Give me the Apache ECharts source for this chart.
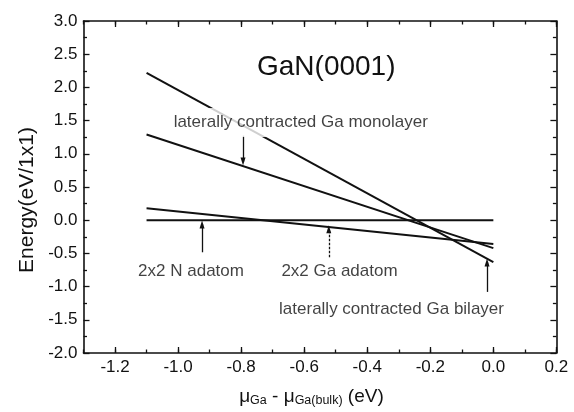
<!DOCTYPE html>
<html>
<head>
<meta charset="utf-8">
<script src="https://cdn.jsdelivr.net/npm/echarts@6/dist/echarts.min.js"></script>
<style>
  html, body { margin: 0; padding: 0; background: #fff; }
  #chart { width: 574px; height: 412px; }
</style>
</head>
<body>
<div id="chart"></div>
<script>
// Surface formation energy vs. Ga chemical potential, GaN(0001)
const muGa = [-1.1, 0.0];
const nAdatom = [0.0, 0.0];
const gaAdatom = [0.18, -0.36];
const gaMonolayer = [1.29, -0.42];
const gaBilayer = [2.22, -0.63];

const xMajorTicks = [-1.2, -1.0, -0.8, -0.6, -0.4, -0.2, 0.0, 0.2];

// annotation texts, their anchors and arrow shafts (data coordinates)
const noteTexts = ['laterally contracted Ga monolayer', '2x2 N adatom', '2x2 Ga adatom', 'laterally contracted Ga bilayer'];
const noteAnchors = [[-0.611, 1.47], [-0.959, -0.77], [-0.488, -0.77], [-0.323, -1.335]];
const arrowTails = [[-0.794, 1.273], [-0.924, -0.483], [-0.522, -0.559], [-0.020, -1.08]];
const arrowHeads = [[-0.794, 0.883], [-0.924, -0.063], [-0.522, -0.138], [-0.020, -0.638]];

const ink = '#111';
const sans = 'Liberation Sans, Arial, sans-serif';
const tickFont = { fontFamily: sans, fontSize: 17, color: ink };

const pairs = ys => muGa.map((x, i) => [x, ys[i]]);

const chart = echarts.init(document.getElementById('chart'), null, { renderer: 'canvas' });

function xAx(pos, major, showLine) {
  const ax = {
    type: 'value', position: pos, min: -1.3, max: 0.2,
    axisLine: { show: showLine, onZero: false, lineStyle: { color: ink, width: 1.6 } },
    splitLine: { show: false },
    axisTick: { show: true, inside: true, length: major ? 6 : 3.5, lineStyle: { color: ink, width: 1.3 } },
    axisLabel: { show: false }
  };
  if (major) {
    ax.axisTick.customValues = xMajorTicks;
    if (pos === 'bottom') {
      ax.axisLabel = Object.assign({ show: true, margin: 6, customValues: xMajorTicks, formatter: v => v.toFixed(1) }, tickFont);
      ax.name = '{m|\u03bc}{s|Ga}{m| - \u03bc}{s|Ga(bulk)}{m| (eV)}';
      ax.nameLocation = 'middle';
      ax.nameGap = 34;
      ax.nameTextStyle = {
        padding: [0, 17, 0, 0],
        rich: {
          m: { fontFamily: sans, fontSize: 19, lineHeight: 20, verticalAlign: 'top', color: ink },
          s: { fontFamily: sans, fontSize: 12.5, lineHeight: 12, padding: [13, 0, 0, 0], verticalAlign: 'bottom', color: ink }
        }
      };
    }
  } else {
    ax.interval = 0.1;
  }
  return ax;
}

function yAx(pos) {
  const ax = {
    type: 'value', position: pos, min: -2, max: 3, interval: 0.5,
    axisLine: { show: true, onZero: false, lineStyle: { color: ink, width: 1.6 } },
    splitLine: { show: false },
    axisTick: { show: true, inside: true, length: 6, lineStyle: { color: ink, width: 1.3 } },
    minorTick: { show: true, splitNumber: 2, length: 3.5, lineStyle: { color: ink, width: 1.3 } },
    axisLabel: { show: false }
  };
  if (pos === 'left') {
    ax.axisLabel = Object.assign({ show: true, margin: 6, formatter: v => v.toFixed(1) }, tickFont);
    ax.name = 'Energy(eV/1x1)';
    ax.nameLocation = 'middle';
    ax.nameGap = 38;
    ax.nameTextStyle = { fontFamily: sans, fontSize: 21, color: ink, padding: [0, 26, 0, 0] };
  }
  return ax;
}

function curve(name, ys) {
  return {
    name, type: 'line', data: pairs(ys), xAxisIndex: 0, yAxisIndex: 0,
    symbol: 'none', silent: true, z: 2,
    lineStyle: { color: ink, width: 2 }
  };
}

const arrowLines = arrowTails.map((t, i) => [
  { coord: t, symbol: 'none', lineStyle: i === 2 ? { type: [2.5, 1.5] } : {} },
  { coord: arrowHeads[i], symbol: 'triangle', symbolSize: [5, 8] }
]);

chart.setOption({
  animation: false,
  backgroundColor: '#fff',
  title: {
    text: 'GaN(0001)', left: 257, top: 53, padding: 0,
    textStyle: { fontFamily: sans, fontSize: 28, fontWeight: 'normal', color: ink }
  },
  grid: { left: 83.5, right: 17.6, top: 21, bottom: 58, containLabel: false },
  xAxis: [xAx('bottom', true, true), xAx('bottom', false, false), xAx('top', true, true), xAx('top', false, false)],
  yAxis: [yAx('left'), yAx('right')],
  series: [
    curve('2x2 N adatom', nAdatom),
    curve('2x2 Ga adatom', gaAdatom),
    curve('laterally contracted Ga monolayer', gaMonolayer),
    curve('laterally contracted Ga bilayer', gaBilayer),
    {
      type: 'scatter', xAxisIndex: 0, yAxisIndex: 0, z: 5, silent: true,
      symbolSize: 0,
      data: noteAnchors.map((p, i) => ({
        value: p,
        label: i === 0 ? { backgroundColor: '#fff', padding: [6, 1] } : {}
      })),
      label: {
        show: true, position: 'inside', align: 'center', verticalAlign: 'middle',
        formatter: p => noteTexts[p.dataIndex],
        fontFamily: sans, fontSize: 17, color: ink
      },
      markLine: {
        silent: true, animation: false,
        symbol: ['none', 'triangle'],
        label: { show: false },
        lineStyle: { color: ink, width: 1.3, type: 'solid' },
        data: arrowLines
      }
    }
  ]
});
</script>
</body>
</html>
